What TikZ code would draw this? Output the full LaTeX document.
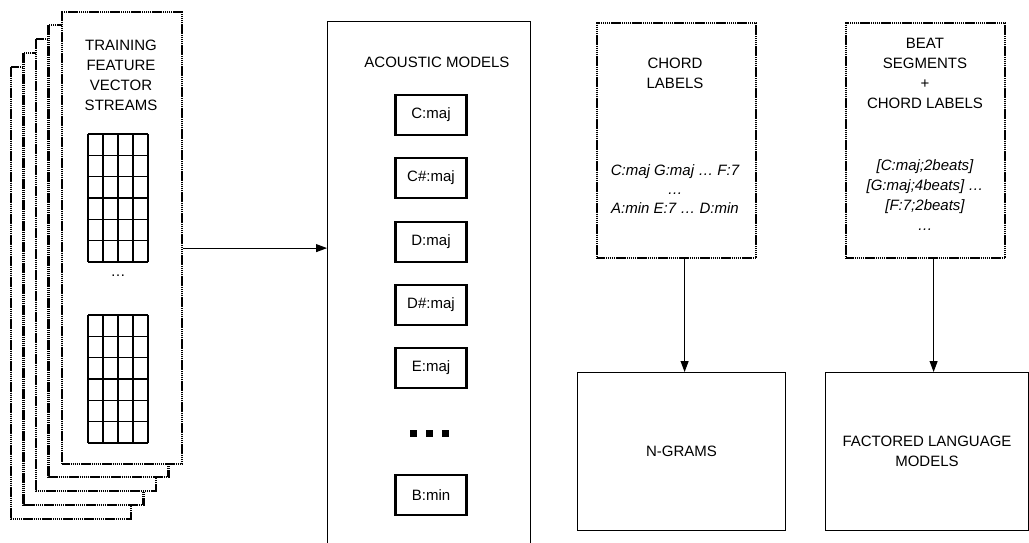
\documentclass[tikz,border=0pt]{standalone}
\usepackage{fontspec}
\setmainfont{Liberation Sans}
\usetikzlibrary{arrows.meta}
\begin{document}
\begin{tikzpicture}[x=1pt,y=-1pt,
	every node/.style={font=\fontsize{15}{20}\selectfont,align=center,inner sep=0pt},
	dotbox/.style={draw,line width=2.2pt,dash pattern=on 1.5pt off 0.6pt,fill=white,anchor=north west},
	plainbox/.style={draw,line width=1pt,anchor=north west},
	modelbox/.style={draw,line width=2.5pt,minimum width=71pt,minimum height=40pt},
	gridline/.style={line width=1.3pt},
	arr/.style={-{Triangle[length=11pt,width=8pt]},line width=1pt}]
	\useasboundingbox (0,0) rectangle (1029,542);
	% stack of training streams
	\foreach \i in {4,...,1}
		\draw[dotbox] (61-12.5*\i,11+14*\i) rectangle +(120,452);
	\node[dotbox,minimum width=120pt,minimum height=452pt] (streams) at (61,11) {};
	\node (streamtitle) at (121,75) {TRAINING\\FEATURE\\VECTOR\\STREAMS};
	\foreach \gy in {134,315} {
		\foreach \c in {0,...,4}
			\draw[gridline] (88+15*\c,\gy) -- (88+15*\c,\gy+128);
		\foreach \r in {0,...,6}
			\draw[gridline] (88,\gy+21.33*\r) -- (148,\gy+21.33*\r);
	}
	\node (griddots) at (118,276) {…};
	% acoustic models
	\node[plainbox,minimum width=203pt,minimum height=540pt] (acoustic) at (327,21) {};
	\node (acoustictitle) at (437,62) {ACOUSTIC MODELS};
	\foreach \name/\y [count=\k] in {C:maj/115,C\#:maj/178,D:maj/242,D\#:maj/305,E:maj/368,B:min/495}
		\node[modelbox] (model\k) at (431,\y) {\name};
	\foreach \dx in {-16,0,16}
		\fill (429+\dx,433) +(-3.5,-3.5) rectangle +(3.5,3.5);
	\draw[arr] ([yshift=-10pt]streams.east) -- ([yshift=-10pt]streams.east -| acoustic.west);
	% chord labels
	\node[dotbox,minimum width=159pt,minimum height=235pt] (chords) at (596,22) {};
	\node (chordtitle) at (675,73) {CHORD\\LABELS};
	\node[font=\fontsize{15}{19}\selectfont\itshape] (chordseq) at (675,189) {C:maj G:maj … F:7\\…\\A:min E:7 … D:min};
	% beat segments
	\node[dotbox,minimum width=159pt,minimum height=235pt] (beats) at (845,22) {};
	\node (beattitle) at (925,73) {BEAT\\SEGMENTS\\+\\CHORD LABELS};
	\node[font=\fontsize{15}{20}\selectfont\itshape] (beatseq) at (925,195) {{[C:maj;2beats]}\\{[G:maj;4beats] …}\\{[F:7;2beats]}\\…};
	% language models
	\node[plainbox,minimum width=208pt,minimum height=158pt] (ngrams) at (577,372) {};
	\node (ngramtext) at (ngrams.center) {N-GRAMS};
	\node[plainbox,minimum width=203pt,minimum height=158pt] (factored) at (825,372) {};
	\node (factoredtext) at (factored.center) {FACTORED LANGUAGE\\MODELS};
	\draw[arr] ([xshift=8pt]chords.south) -- ([xshift=8pt]chords.south |- ngrams.north);
	\draw[arr] ([xshift=8pt]beats.south) -- ([xshift=8pt]beats.south |- factored.north);
\end{tikzpicture}
\end{document}
